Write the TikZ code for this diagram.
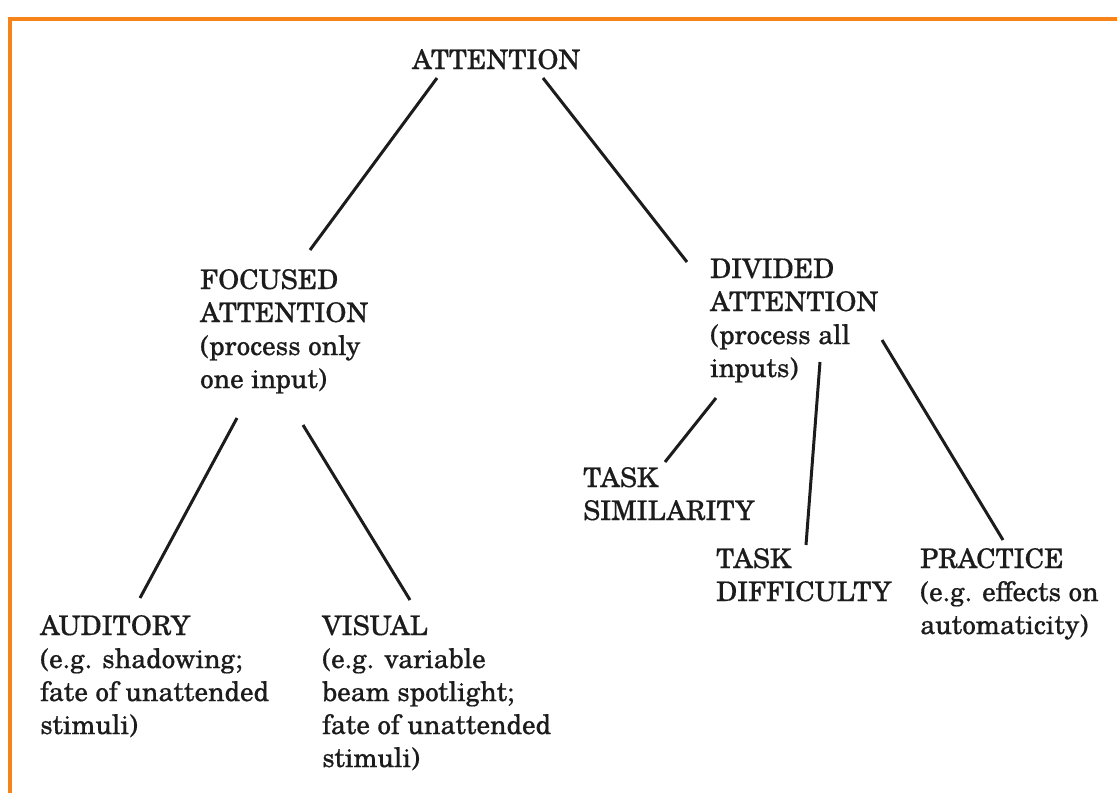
\documentclass[tikz,border=0pt]{standalone}
\usepackage{fontspec}
\setmainfont{TeX Gyre Schola}[FakeBold=0.5]
\definecolor{frameorange}{RGB}{246,132,26}
\definecolor{ink}{RGB}{28,28,28}
\begin{document}
\begin{tikzpicture}[x=1pt,y=-1pt,
  lbl/.style={anchor=base west, inner sep=0pt, align=left, text=ink,
    font=\fontsize{27}{33}\selectfont},
  link/.style={draw=ink, line width=3pt}]
\useasboundingbox (0,0) rectangle (1117,793);
% frame on the top and left edges
\draw[frameorange, line width=4pt] (10,793) -- (10,18.5) -- (1117,18.5);

% labels (each placed by the baseline of its last line)
\node[lbl] (top) at (412,69) {ATTENTION};
\node[lbl] (foc) at (200,388) {FOCUSED\\ATTENTION\\(process only\\one input)};
\node[lbl] (div) at (710,377) {DIVIDED\\ATTENTION\\(process all\\inputs)};
\node[lbl] (sim) at (583,520) {TASK\\SIMILARITY};
\node[lbl] (dif) at (716,601) {TASK\\DIFFICULTY};
\node[lbl] (pra) at (920,634) {PRACTICE\\(e.g. effects on\\automaticity)};
\node[lbl] (aud) at (40,734) {AUDITORY\\(e.g. shadowing;\\fate of unattended\\stimuli)};
\node[lbl] (vis) at (322,767) {VISUAL\\(e.g. variable\\beam spotlight;\\fate of unattended\\stimuli)};

% tree branches
\draw[link] ([shift={(25,9)}]top.base west) -- ([shift={(110,-138)}]foc.base west);
\draw[link] ([shift={(131,9)}]top.base west) -- ([shift={(-23,-115)}]div.base west);
\draw[link] ([shift={(37,30)}]foc.base west) -- ([shift={(100,-136)}]aud.base west);
\draw[link] ([shift={(103,37)}]foc.base west) -- ([shift={(88,-167)}]vis.base west);
\draw[link] ([shift={(6,21)}]div.base west) -- ([shift={(82,-58)}]sim.base west);
\draw[link] ([shift={(110,-15)}]div.base west) -- ([shift={(90,-56)}]dif.base west);
\draw[link] ([shift={(172,-37)}]div.base west) -- ([shift={(83,-94)}]pra.base west);
\end{tikzpicture}
\end{document}
